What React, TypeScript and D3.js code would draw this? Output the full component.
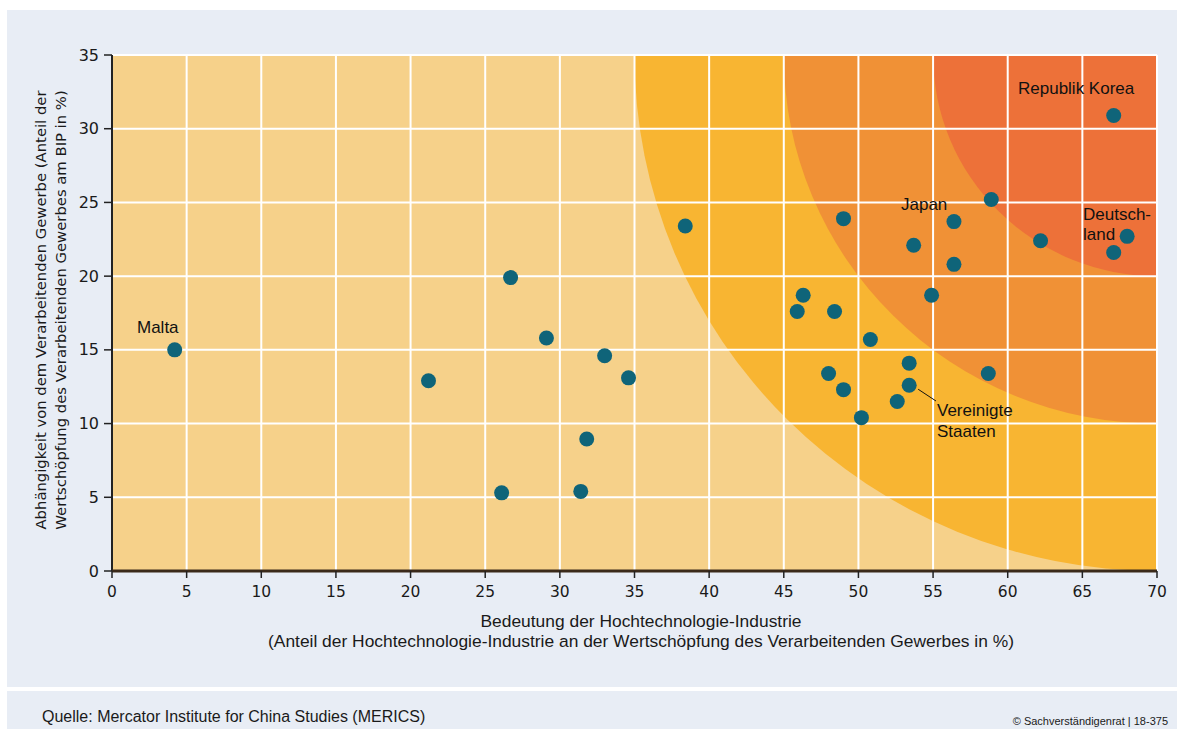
import React from "react";
import * as d3 from "d3";

const W = 1177;
const H = 729;

// Data: [Hochtechnologie-Anteil %, Anteil Verarbeitendes Gewerbe am BIP %]
const xValues = [4.2, 21.2, 26.7, 29.1, 33.0, 34.6, 31.8, 26.1, 31.4, 38.4, 46.3, 45.9, 48.4, 49.0, 50.8, 48.0, 49.0, 50.2, 53.4, 53.4, 52.6, 53.7, 56.4, 56.4, 54.9, 58.9, 58.7, 62.2, 67.1, 68.0, 67.1];
const yValues = [15.0, 12.9, 19.9, 15.8, 14.6, 13.1, 8.95, 5.3, 5.4, 23.4, 18.7, 17.6, 17.6, 23.9, 15.7, 13.4, 12.3, 10.4, 14.1, 12.6, 11.5, 22.1, 23.7, 20.8, 18.7, 25.2, 13.4, 22.4, 30.9, 22.7, 21.6];
const xTicks = [0, 5, 10, 15, 20, 25, 30, 35, 40, 45, 50, 55, 60, 65, 70];
const yTicks = [0, 5, 10, 15, 20, 25, 30, 35];
const zoneRadii = [35, 25, 15];
const zoneColors = ["#f8b532", "#f09136", "#ed7139"];

export default function App() {
  const x = d3.scaleLinear().domain([0, 70]).range([112, 1157]);
  const y = d3.scaleLinear().domain([0, 35]).range([571, 55]);
  const x0 = x(0), x1 = x(70), y0 = y(0), y1 = y(35);
  const cx = x(70), cy = y(35);

  const font = "'Liberation Sans', Arial, sans-serif";
  const tickFont = "'DejaVu Sans', Verdana, sans-serif";

  return (
    <svg width={W} height={H} style={{ position: "absolute", left: 0, top: 0 }}>
      <defs>
        <clipPath id="plotclip">
          <rect x={x0} y={y1} width={x1 - x0} height={y0 - y1} />
        </clipPath>
      </defs>
      <rect x={0} y={0} width={W} height={H} fill="#ffffff" />
      <rect x={7} y={10} width={W - 7} height={677} fill="#e8edf5" />
      <rect x={7} y={691} width={W - 7} height={H - 691} fill="#e8edf5" />

      {/* plot background */}
      <rect x={x0} y={y1} width={x1 - x0} height={y0 - y1} fill="#f6d18a" />
      <g clipPath="url(#plotclip)">
        {zoneRadii.map((r, i) => (
          <ellipse
            key={r}
            cx={cx}
            cy={cy}
            rx={x(r) - x(0)}
            ry={y(0) - y(r)}
            fill={zoneColors[i]}
          />
        ))}
      </g>

      {/* grid */}
      {xTicks.filter((t) => t > 0).map((t) => (
        <line key={"gx" + t} x1={x(t)} x2={x(t)} y1={y1} y2={y0} stroke="#ffffff" strokeWidth={2} />
      ))}
      {yTicks.filter((t) => t > 0).map((t) => (
        <line key={"gy" + t} x1={x0} x2={x1} y1={y(t)} y2={y(t)} stroke="#ffffff" strokeWidth={2} />
      ))}

      {/* axes */}
      <line x1={x0} x2={x0} y1={y1} y2={y0} stroke="#222" strokeWidth={2} />
      {yTicks.map((t) => (
        <g key={"yt" + t}>
          <line x1={x0 - 8} x2={x0} y1={y(t)} y2={y(t)} stroke="#222" strokeWidth={1.5} />
          <text x={x0 - 13} y={y(t)} dy="0.35em" textAnchor="end" fontFamily={tickFont} fontSize={16} fill="#1a1a1a">
            {t}
          </text>
        </g>
      ))}
      <line x1={x0} x2={x1} y1={y0} y2={y0} stroke="#3b2a1a" strokeWidth={3} />
      {xTicks.map((t) => (
        <g key={"xt" + t}>
          <line x1={x(t)} x2={x(t)} y1={y0} y2={y0 + 7} stroke="#222" strokeWidth={1.5} />
          <text x={x(t)} y={y0 + 26} textAnchor="middle" fontFamily={tickFont} fontSize={15.5} fill="#1a1a1a">
            {t}
          </text>
        </g>
      ))}

      {/* points */}
      {xValues.map((v, i) => (
        <circle key={"p" + i} cx={x(v)} cy={y(yValues[i])} r={7.5} fill="#0f6479" />
      ))}

      {/* annotations */}
      <g fontFamily={font} fontSize={17} fill="#111">
        <text x={1018} y={94}>Republik Korea</text>
        <text x={901} y={210}>Japan</text>
        <text x={1083} y={220}>Deutsch-</text>
        <text x={1083} y={240}>land</text>
        <text x={137} y={333}>Malta</text>
        <text x={937} y={416}>Vereinigte</text>
        <text x={937} y={437}>Staaten</text>
      </g>
      <line x1={x(53.4) + 9} y1={y(12.6) + 4} x2={936} y2={401} stroke="#111" strokeWidth={1} />

      {/* axis titles */}
      <g fontFamily={tickFont} fontSize={14.8} fill="#1a1a1a">
        <text transform={`translate(46,310) rotate(-90)`} textAnchor="middle">
          Abhängigkeit von dem Verarbeitenden Gewerbe (Anteil der
        </text>
        <text transform={`translate(66,310) rotate(-90)`} textAnchor="middle">
          Wertschöpfung des Verarbeitenden Gewerbes am BIP in %)
        </text>
      </g>
      <g fontFamily={font} fontSize={17.4} fill="#1a1a1a" textAnchor="middle">
        <text x={641} y={627}>Bedeutung der Hochtechnologie-Industrie</text>
        <text x={641} y={647}>(Anteil der Hochtechnologie-Industrie an der Wertschöpfung des Verarbeitenden Gewerbes in %)</text>
      </g>

      {/* footer */}
      <text x={42} y={722} fontFamily={font} fontSize={16} fill="#1a1a1a">
        Quelle: Mercator Institute for China Studies (MERICS)
      </text>
      <text x={1168} y={725} textAnchor="end" fontFamily={font} fontSize={11} fill="#1a1a1a">
        © Sachverständigenrat | 18-375
      </text>
    </svg>
  );
}
